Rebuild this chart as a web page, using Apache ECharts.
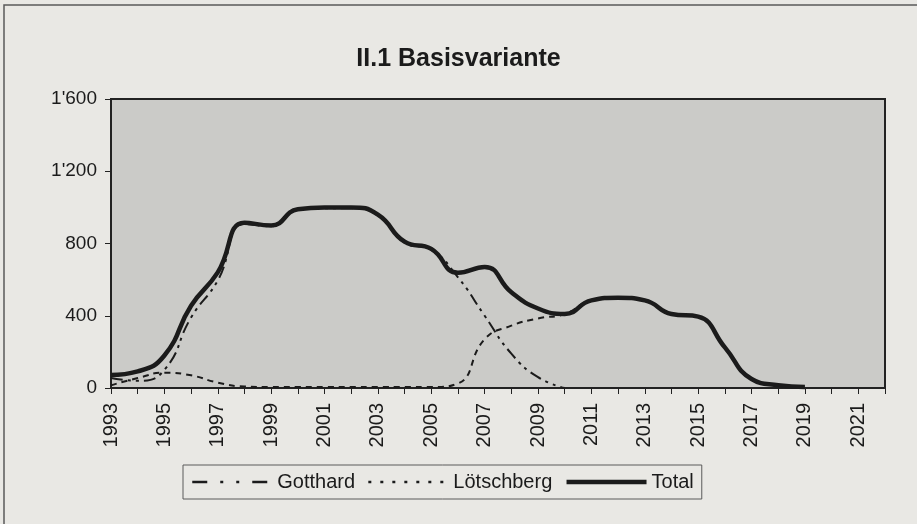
<!DOCTYPE html>
<html>
<head>
<meta charset="utf-8">
<script src="https://cdn.jsdelivr.net/npm/echarts@6/dist/echarts.min.js"></script>
<style>
  html, body {margin: 0; padding: 0; background: #e9e8e4;}
  #chart {width: 917px; height: 524px;}
</style>
</head>
<body>
<div id="chart"></div>
<script>
var years = ['1993', '1994', '1995', '1996', '1997', '1998', '1999', '2000', '2001', '2002',
    '2003', '2004', '2005', '2006', '2007', '2008', '2009', '2010', '2011', '2012',
    '2013', '2014', '2015', '2016', '2017', '2018', '2019', '2020', '2021', '2022'];
var gotthard = [55, 40, 100, 390, 595, 907, 895, 985, 995, 995,
    955, 805, 765, 613, 400, 190, 60, 0, null, null,
    null, null, null, null, null, null, null, null, null, null];
var loetschberg = [15, 55, 85, 70, 30, 8, 5, 5, 5, 5,
    5, 5, 5, 25, 270, 345, 385, 410, 485, 500,
    485, 410, 395, 225, 50, 15, 5, null, null, null];
var total = [72, 92, 180, 455, 640, 915, 900, 990, 1000, 1000,
    960, 810, 770, 638, 670, 530, 440, 410, 485, 500,
    485, 410, 395, 225, 50, 15, 5, null, null, null];
var y_ticks = [0, 400, 800, 1200, 1600];

const font = 'Liberation Sans, Arial, sans-serif';
const ink = '#1b1b1b';

function fmt_thousands(v) {
    // swiss style 1'600
    if (v >= 1000) {
        return Math.floor(v / 1000) + "'" + String(v % 1000).padStart(3, '0');
    }
    return String(v);
}

var chart = echarts.init(document.getElementById('chart'));
chart.setOption({
    backgroundColor: '#e9e8e4',
    animation: false,
    color: [ink, ink, ink],
    textStyle: {fontFamily: font},
    graphic: [{
        type: 'rect',
        shape: {x: 4, y: 5, width: 940, height: 540},
        style: {fill: 'none', stroke: '#5a5a5a', lineWidth: 1.5},
        silent: true,
    }],
    title: {
        text: 'II.1 Basisvariante',
        left: 'center',
        top: 42,
        textStyle: {fontSize: 25, fontWeight: 'bold', color: ink, fontFamily: font},
    },
    legend: {
        show: true,
        left: 183,
        top: 465,
        padding: [5, 8],
        itemGap: 12,
        itemWidth: 80,
        itemHeight: 14,
        borderColor: '#5a5a5a',
        borderWidth: 1,
        itemStyle: {opacity: 0},
        textStyle: {fontSize: 20, color: ink, lineHeight: 24, fontFamily: font},
        data: [
            {name: 'Gotthard', lineStyle: {type: [15, 13, 3, 13, 3, 13], width: 2.5}},
            {name: 'Lötschberg', lineStyle: {type: [3, 9], width: 2.5}},
            {name: 'Total', lineStyle: {width: 4.5}},
        ],
    },
    grid: {
        left: 111,
        right: 32,
        top: 99,
        bottom: 136,
        show: true,
        backgroundColor: '#cbcbc8',
        borderColor: '#222',
        borderWidth: 2,
    },
    xAxis: {
        type: 'category',
        data: years,
        boundaryGap: false,
        axisLine: {lineStyle: {color: '#222', width: 2}},
        axisTick: {show: true, interval: 0, length: 6, lineStyle: {color: '#222', width: 1}},
        axisLabel: {interval: 1, rotate: 90, margin: 15, fontSize: 20, color: ink, fontFamily: font},
        splitLine: {show: false},
    },
    yAxis: {
        type: 'value',
        min: y_ticks[0],
        max: y_ticks[y_ticks.length - 1],
        interval: 400,
        axisLine: {show: true, lineStyle: {color: '#222', width: 2}},
        axisTick: {show: true, length: 6, lineStyle: {color: '#222', width: 1}},
        axisLabel: {margin: 14, fontSize: 19, color: ink, fontFamily: font, formatter: fmt_thousands},
        splitLine: {show: false},
    },
    series: [
        {
            name: 'Gotthard', type: 'line', data: gotthard, smooth: 0.5,
            symbol: 'none', showSymbol: false, z: 3,
            lineStyle: {color: ink, width: 2, type: [12, 5, 3, 5, 3, 5]},
        },
        {
            name: 'Lötschberg', type: 'line', data: loetschberg, smooth: 0.5,
            symbol: 'none', showSymbol: false, z: 3,
            lineStyle: {color: ink, width: 2, type: [6, 5]},
        },
        {
            name: 'Total', type: 'line', data: total, smooth: 0.5,
            symbol: 'none', showSymbol: false, z: 4,
            lineStyle: {color: ink, width: 4.5},
        },
    ],
});
</script>
</body>
</html>
